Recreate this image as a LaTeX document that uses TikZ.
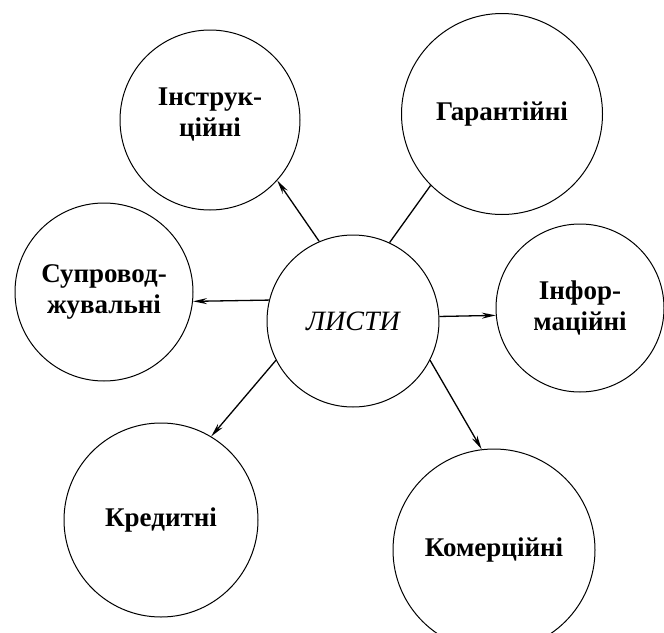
\documentclass[tikz,border=0pt]{standalone}
\usepackage{fontspec}
\setmainfont{Liberation Serif}
\usetikzlibrary{arrows.meta}
\tikzset{>={Stealth[length=14pt,width=6pt]}}
\tikzset{lyst/.style={draw,circle,line width=1pt,inner sep=0pt,align=center,font=\fontsize{27}{31}\selectfont\bfseries}}

\begin{document}
\begin{tikzpicture}[x=1pt,y=-1pt]
    \useasboundingbox (0,0) rectangle (664,632);
    \node[lyst,minimum size=172pt,font=\fontsize{28}{31}\selectfont\itshape] (lysty) at (353,321) {ЛИСТИ};
    \node[lyst,minimum size=180pt] (instr) at (210,120) {Інструк-\\ційні\\[-16pt]\mbox{}};
    \node[lyst,minimum size=201pt] (garant) at (502,114) {Гарантійні};
    \node[lyst,minimum size=178pt] (suprov) at (104,292) {Супровод-\\жувальні};
    \node[lyst,minimum size=168pt] (inform) at (580,308) {Інфор-\\маційні};
    \node[lyst,minimum size=194pt] (kredyt) at (161,520) {Кредитні};
    \node[lyst,minimum size=202pt] (komerc) at (494,550) {Комерційні};
    \draw[->, line width=1.3pt] (lysty.113) -- (instr.-42);
    \draw[line width=1.3pt] (lysty.65) -- (garant.-135);
    \draw[->, line width=1.3pt] (lysty.166) -- (suprov.-6);
    \draw[->, line width=1.3pt] (lysty.3) -- (inform.185);
    \draw[->, line width=1.3pt] (lysty.-153) -- (kredyt.59);
    \draw[->, line width=1.3pt] (lysty.-27) -- (komerc.97);
\end{tikzpicture}
\end{document}
